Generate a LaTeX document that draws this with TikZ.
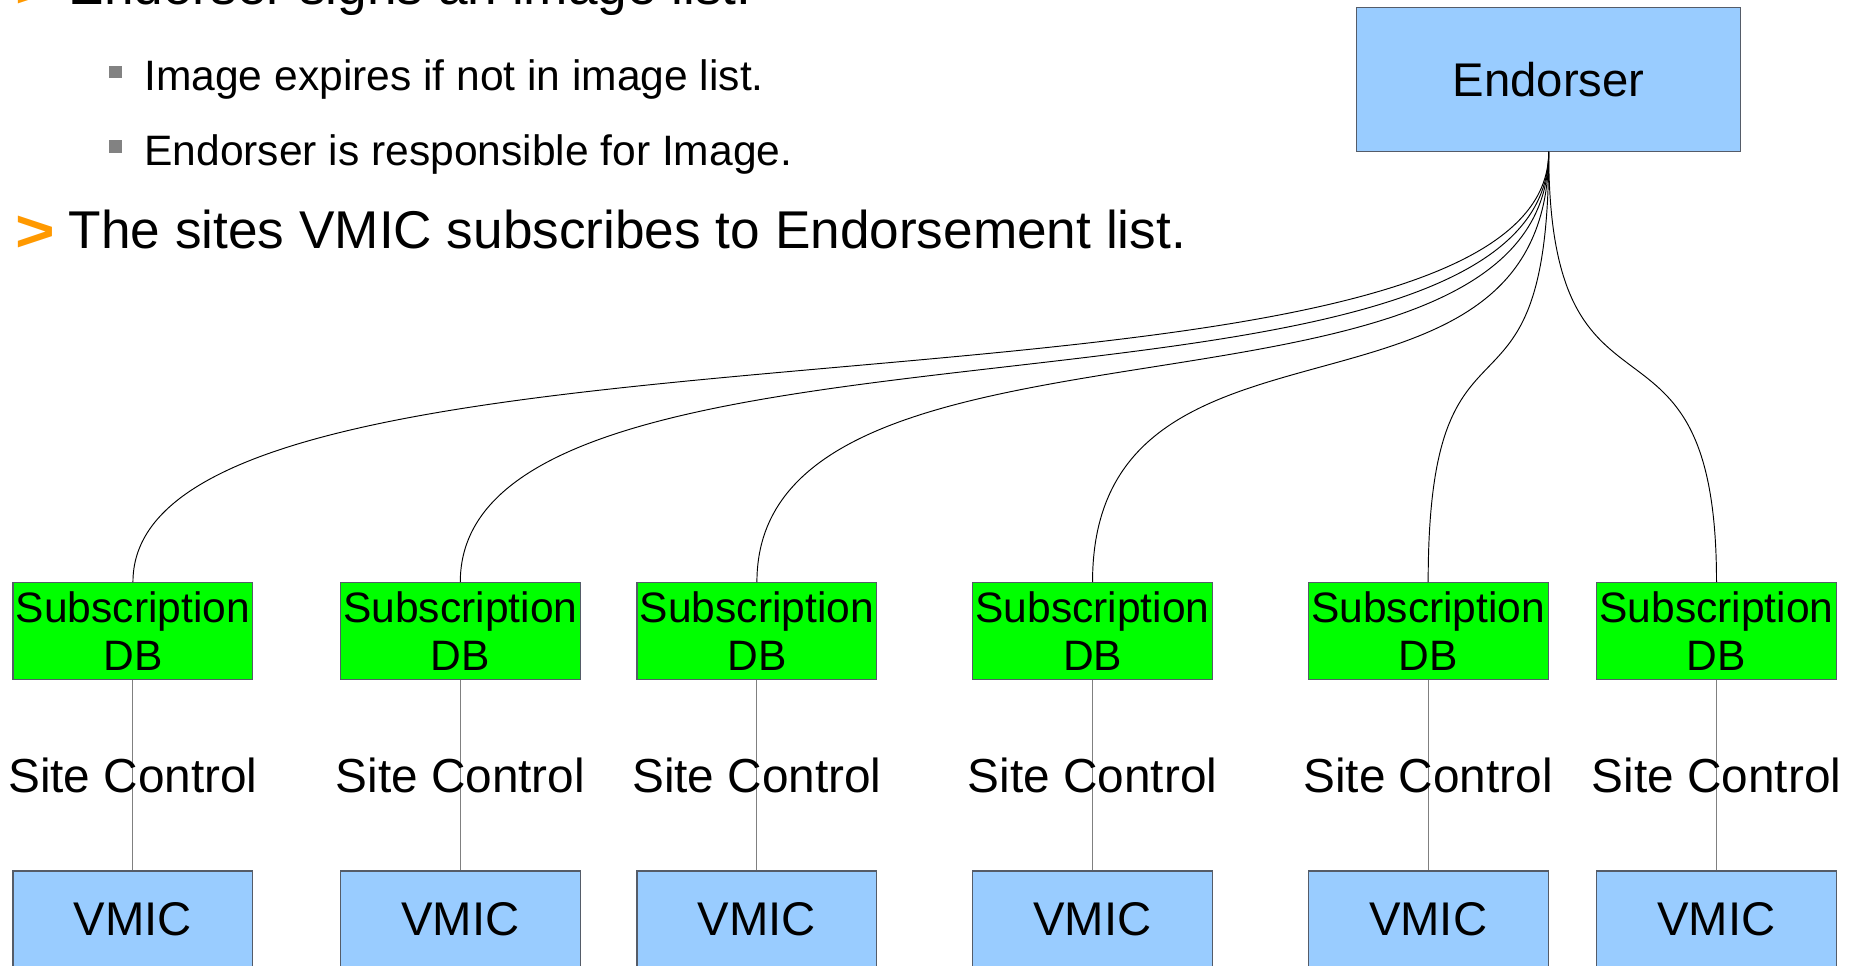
\documentclass[tikz,border=0pt]{standalone}
\usepackage{fontspec}
\setmainfont{Liberation Sans}
\definecolor{skyblue}{RGB}{153,204,255}
\definecolor{dbgreen}{RGB}{0,255,0}
\definecolor{boxline}{RGB}{85,92,104}
\definecolor{linkgray}{RGB}{128,128,128}
\definecolor{bulletorange}{RGB}{255,153,0}
\definecolor{bulletgray}{RGB}{130,130,130}
\newcommand{\fs}[1]{\fontsize{#1}{1.1\dimexpr#1pt\relax}\selectfont}
\tikzset{
  x=1pt, y=1pt,
  endorserbox/.style={draw=boxline, fill=skyblue, line width=0.9pt,
    minimum width=325pt, minimum height=122pt, inner sep=0pt, font=\fs{40}},
  dbbox/.style={draw=boxline, fill=dbgreen, line width=0.9pt,
    minimum width=203pt, minimum height=82pt, inner sep=0pt, align=center,
    font=\fontsize{36}{39.5}\selectfont},
  vmicbox/.style={draw=boxline, fill=skyblue, line width=0.9pt,
    minimum width=203pt, minimum height=82pt, inner sep=0pt, font=\fs{40}},
  feed/.style={draw=black, line width=0.8pt},
  sitelink/.style={draw=linkgray, line width=0.9pt},
  sitelabel/.style={inner sep=0pt, font=\fs{40.4}},
  bodytext/.style={anchor=base west, inner sep=0pt},
  chevron/.style={anchor=base west, inner sep=0pt, text=bulletorange,
    font=\bfseries\fs{50}, xscale=1.15},
  square/.style={fill=bulletgray, draw=none, minimum width=11pt,
    minimum height=10.5pt, inner sep=0pt}
}
\begin{document}
\begin{tikzpicture}
\path[use as bounding box, clip] (0,-817) rectangle (1568,0);
\fill[white] (0,-817) rectangle (1568,0);

% bullet list
\node[chevron] (c1) at (13,-6.5) {>};
\node[bodytext, font=\fs{45}] (t1) at (58,-4) {Endorser signs an image list.};
\node[square] (s1) at (98,-61) {};
\node[bodytext, font=\fs{36}] (t2) at (122,-77) {Image expires if not in image list.};
\node[square] (s2) at (98,-124) {};
\node[bodytext, font=\fs{36}] (t3) at (122,-140) {Endorser is responsible for Image.};
\node[chevron] (c2) at (13,-212.5) {>};
\node[bodytext, font=\fs{45}] (t4) at (58,-210) {The sites VMIC subscribes to Endorsement list.};

% endorser
\node[endorserbox] (E) at (1310.5,-67) {Endorser};

% sites: subscription DB, site control link, VMIC
\foreach \i/\cx in {1/112.5, 2/389.5, 3/640.5, 4/924.5, 5/1208.5, 6/1452.5} {
  \node[dbbox] (D\i) at (\cx,-534) {\raisebox{1pt}{Subscription}\\DB};
  \node[vmicbox] (V\i) at (\cx,-778) {VMIC};
  \draw[sitelink] (D\i.south) -- node[sitelabel] {Site Control} (V\i.north);
}

% subscriptions from the endorser to each DB
\foreach \i in {1,...,6} {
  \draw[feed] (E.south) .. controls +(0,-258) and +(0,258) .. (D\i.north);
}
\end{tikzpicture}
\end{document}
